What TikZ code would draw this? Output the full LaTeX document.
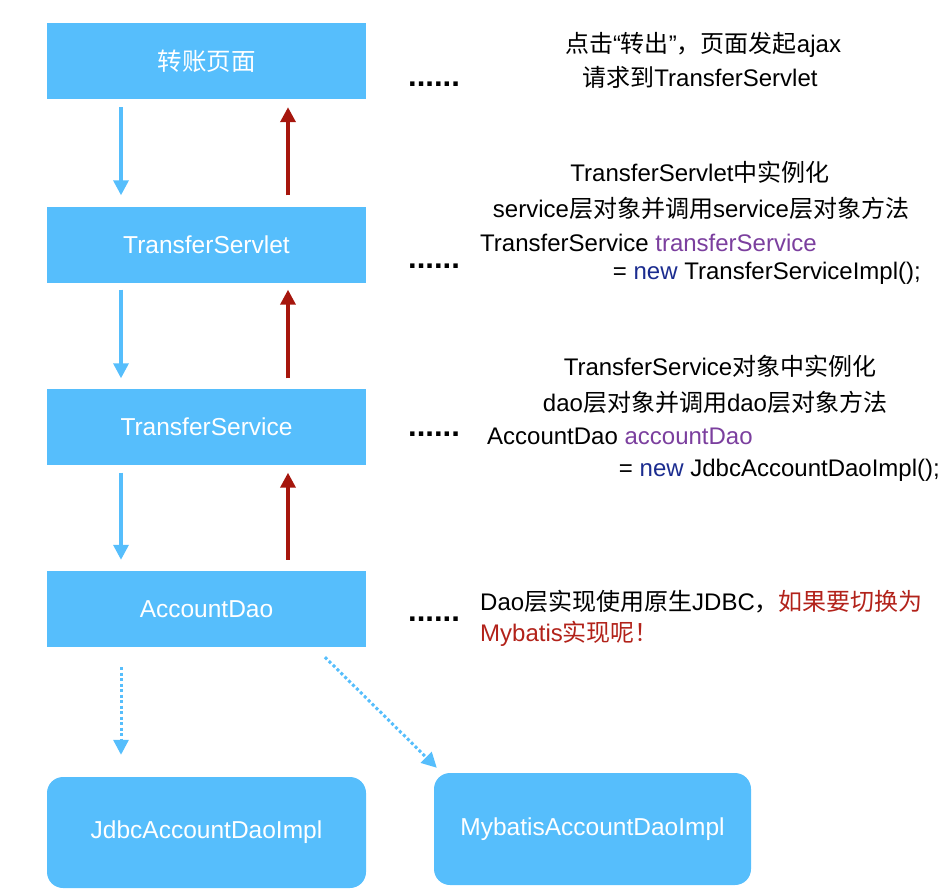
\documentclass[tikz,border=0pt]{standalone}
\usepackage{fontspec}
\setmainfont{Liberation Sans}
\newfontfamily\cjk{Noto Sans CJK SC}
\usetikzlibrary{arrows.meta}
\definecolor{boxblue}{HTML}{56BEFC}
\definecolor{arrred}{HTML}{A6160D}
\definecolor{txtred}{HTML}{B2221A}
\definecolor{kwpurple}{HTML}{7B3F9E}
\definecolor{kwnavy}{HTML}{1B2C8F}
\newcommand\zh[1]{{\cjk #1}}
\begin{document}
\begin{tikzpicture}[x=1pt,y=-1pt,
 box/.style={fill=boxblue, draw=none, minimum width=319pt, minimum height=76pt, text=white, font=\fontsize{24.5}{28}\selectfont, inner sep=0pt},
 rbox/.style={box, rounded corners=16pt, minimum height=111pt},
 note/.style={font=\fontsize{24}{28}\selectfont, inner sep=0pt, text=black},
 dotsnode/.style={font=\bfseries\fontsize{31}{31}\selectfont, inner sep=0pt, anchor=base west},
 downarr/.style={draw=boxblue, line width=3.3pt, -{Triangle[width=15pt,length=15pt]}},
 uparr/.style={draw=arrred, line width=3.5pt, -{Triangle[width=15pt,length=15pt]}},
 dotarr/.style={draw=boxblue, line width=3pt, dash pattern=on 3pt off 2.5pt, -{Triangle[width=15pt,length=15pt]}}]
\useasboundingbox (0,0) rectangle (952,892);

% boxes
\node[box] (b1) at (206.5,61) {\zh{转账页面}};
\node[box] (b2) at (206.5,244.5) {TransferServlet};
\node[box] (b3) at (206.5,426.5) {TransferService};
\node[box] (b4) at (206.5,609) {AccountDao};
\node[rbox] (jd) at (206.5,832.5) {JdbcAccountDaoImpl};
\node[rbox, minimum width=317pt, minimum height=112pt] (my) at (592.5,829) {MybatisAccountDaoImpl};

% arrows
\draw[downarr, shorten <=8pt, shorten >=11pt] ([xshift=-85.5pt]b1.south) -- ([xshift=-85.5pt]b2.north);
\draw[uparr, shorten <=11pt, shorten >=8pt] ([xshift=81.5pt]b2.north) -- ([xshift=81.5pt]b1.south);
\draw[downarr, shorten <=7pt, shorten >=10pt] ([xshift=-85.5pt]b2.south) -- ([xshift=-85.5pt]b3.north);
\draw[uparr, shorten <=10pt, shorten >=7pt] ([xshift=81.5pt]b3.north) -- ([xshift=81.5pt]b2.south);
\draw[downarr, shorten <=8pt, shorten >=11pt] ([xshift=-85.5pt]b3.south) -- ([xshift=-85.5pt]b4.north);
\draw[uparr, shorten <=11pt, shorten >=8pt] ([xshift=81.5pt]b4.north) -- ([xshift=81.5pt]b3.south);
\draw[dotarr, shorten <=20pt, shorten >=22pt] ([xshift=-85.5pt]b4.south) -- ([xshift=-85.5pt]jd.north);
\draw[dotarr] ([xshift=118.5pt,yshift=-10pt]b4.south) -- ([xshift=3pt,yshift=5pt]my.north west);

% dots
\node[dotsnode] (d1) at (408,86) {......};
\node[dotsnode] (d2) at (408,268) {......};
\node[dotsnode] (d3) at (408,436) {......};
\node[dotsnode] (d4) at (408,621) {......};

% block 1
\node[note, anchor=base] (t11) at (703,52) {\zh{点击}“\zh{转出}”\zh{，页面发起}ajax};
\node[note, anchor=base] (t12) at (700,86) {\zh{请求到}TransferServlet};
% block 2
\node[note, anchor=base] (t21) at (700,181) {TransferServlet\zh{中实例化}};
\node[note, anchor=base] (t22) at (701,217) {service\zh{层对象并调用}service\zh{层对象方法}};
\node[note, anchor=base west] (t23) at (480,251) {TransferService \textcolor{kwpurple}{transferService}};
\node[note, anchor=base east] (t24) at (921,279) {= \textcolor{kwnavy}{new} TransferServiceImpl();};
% block 3
\node[note, anchor=base] (t31) at (720,375) {TransferService\zh{对象中实例化}};
\node[note, anchor=base] (t32) at (715,411) {dao\zh{层对象并调用}dao\zh{层对象方法}};
\node[note, anchor=base west] (t33) at (487,444) {AccountDao \textcolor{kwpurple}{accountDao}};
\node[note, anchor=base east] (t34) at (940,476) {= \textcolor{kwnavy}{new} JdbcAccountDaoImpl();};
% block 4
\node[note, anchor=base west] (t41) at (480,610) {Dao\zh{层实现使用原生}JDBC\zh{，}\textcolor{txtred}{\zh{如果要切换为}}};
\node[note, anchor=base west, text=txtred] (t42) at (480,641) {Mybatis\zh{实现呢！}};
\end{tikzpicture}
\end{document}
